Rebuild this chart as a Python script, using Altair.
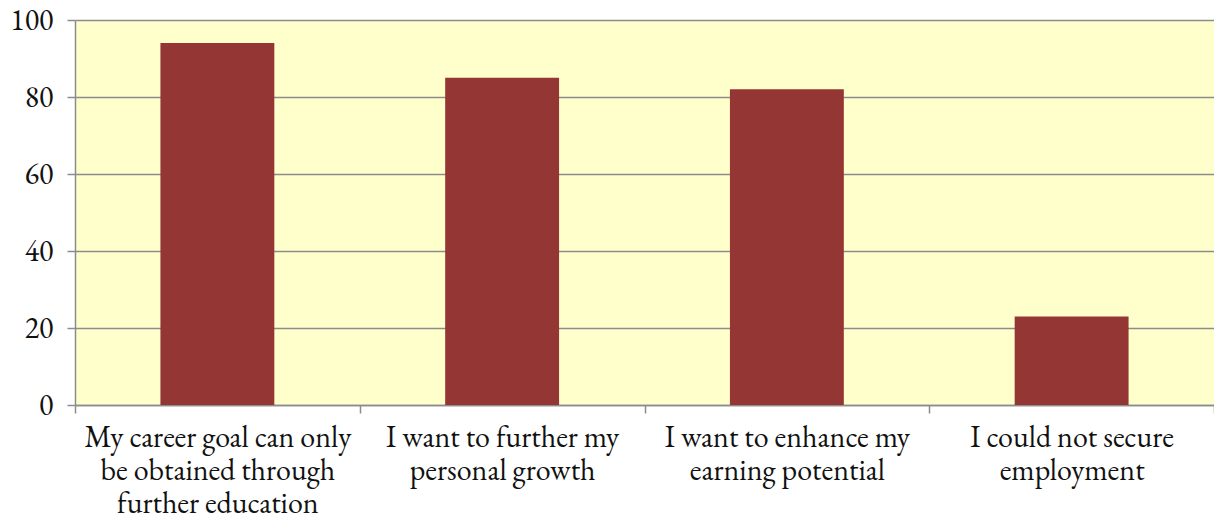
import altair as alt
import pandas as pd

categories = [
    "My career goal can only|be obtained through|further education",
    "I want to further my|personal growth",
    "I want to enhance my|earning potential",
    "I could not secure|employment",
]
values = [94, 85, 82, 23]

df = pd.DataFrame({"reason": categories, "count": values})

FONT = "EB Garamond"
GRID = "#8c8c8c"

chart = (
    alt.Chart(df)
    .mark_bar(color="#943634", width=alt.RelativeBandSize(0.4))
    .encode(
        x=alt.X(
            "reason:N",
            sort=categories,
            title=None,
            scale=alt.Scale(paddingInner=0, paddingOuter=0),
            axis=alt.Axis(
                labelAngle=0,
                labelExpr="split(datum.label, '|')",
                labelFont=FONT,
                labelFontSize=30,
                labelColor="#111111",
                labelLineHeight=33,
                labelPadding=9,
                tickBand="extent",
                tickSize=8,
                tickColor=GRID,
                tickWidth=1.5,
                domainColor=GRID,
                domainWidth=1.5,
                grid=False,
                labelLimit=400,
            ),
        ),
        y=alt.Y(
            "count:Q",
            title=None,
            scale=alt.Scale(domain=[0, 100]),
            axis=alt.Axis(
                values=[0, 20, 40, 60, 80, 100],
                labelFont=FONT,
                labelFontSize=30,
                labelColor="#111111",
                labelPadding=14,
                tickSize=8,
                tickColor=GRID,
                tickWidth=1.5,
                domainColor=GRID,
                domainWidth=1.5,
                gridColor=GRID,
                gridWidth=1.5,
                gridOpacity=1,
            ),
        ),
    )
    .properties(
        width=1139,
        height=385,
        background="white",
        autosize=alt.AutoSizeParams(type="none"),
        padding={"left": 67, "top": 12, "right": 0, "bottom": 110},
    )
    .configure(font=FONT)
    .configure_view(fill="#FFFFCC", stroke=None)
    .configure_axis(labelFont=FONT)
)

chart.save("out.html", embed_options={"renderer": "svg", "actions": False})
